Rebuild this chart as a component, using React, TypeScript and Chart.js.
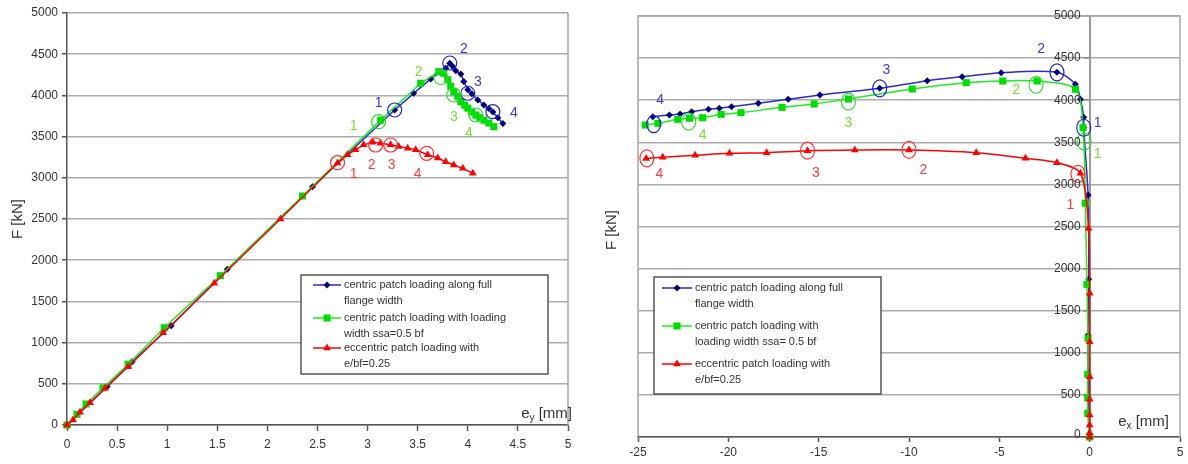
import React, { useEffect, useRef } from 'react';
import { Chart, registerables } from 'chart.js';

Chart.register(...registerables);

const FONT = "'Liberation Sans', Arial, sans-serif";
const TEXT = '#333';

// ---------- Left panel: e_y [mm] vs F [kN] ----------
const leftBlueEy = [0, 0.40, 0.65, 1.04, 1.60, 2.45, 3.27, 3.46, 3.63, 3.78, 3.82, 3.85, 3.88, 3.93, 3.96, 4.00, 4.04, 4.10, 4.16, 4.21, 4.25, 4.30, 4.35];
const leftBlueF = [0, 465, 768, 1205, 1890, 2890, 3823, 4025, 4200, 4330, 4390, 4350, 4300, 4260, 4170, 4070, 4020, 3945, 3885, 3840, 3800, 3730, 3660];

const leftGreenEy = [0, 0.10, 0.19, 0.36, 0.61, 0.97, 1.53, 2.35, 3.13, 3.53, 3.71, 3.76, 3.80, 3.83, 3.86, 3.90, 3.93, 3.97, 4.00, 4.04, 4.08, 4.12, 4.16, 4.21, 4.26];
const leftGreenF = [0, 130, 255, 450, 738, 1180, 1812, 2779, 3700, 4147, 4288, 4268, 4190, 4110, 4045, 3990, 3925, 3880, 3845, 3800, 3762, 3730, 3700, 3665, 3620];

const leftRedEy = [0, 0.06, 0.13, 0.23, 0.38, 0.61, 0.96, 1.47, 2.13, 2.70, 2.80, 2.88, 2.96, 3.05, 3.13, 3.23, 3.31, 3.40, 3.48, 3.60, 3.70, 3.78, 3.86, 3.95, 4.05];
const leftRedF = [0, 61, 154, 271, 445, 708, 1120, 1720, 2500, 3180, 3280, 3340, 3400, 3430, 3420, 3400, 3380, 3360, 3340, 3280, 3240, 3195, 3155, 3115, 3055];

// annotation circles / labels (data coordinates)
const leftBlueCircX = [3.27, 3.82, 4.00, 4.25];
const leftBlueCircF = [3823, 4393, 4026, 3802];
const leftBlueLabX = [3.11, 3.96, 4.10, 4.46];
const leftBlueLabF = [3904, 4559, 4155, 3782];
const leftGreenCircX = [3.11, 3.73, 3.86, 4.08];
const leftGreenCircF = [3681, 4219, 4005, 3762];
const leftGreenLabX = [2.86, 3.51, 3.86, 4.01];
const leftGreenLabF = [3628, 4280, 3742, 3547];
const leftRedCircX = [2.70, 3.08, 3.23, 3.59];
const leftRedCircF = [3183, 3398, 3398, 3297];
const leftRedLabX = [2.86, 3.04, 3.24, 3.50];
const leftRedLabF = [3046, 3155, 3155, 3046];

// ---------- Right panel: e_x [mm] vs F [kN] ----------
const rightBlueEx = [0, -0.09, -0.09, -0.05, -0.09, -0.33, -0.33, -0.51, -0.79, -1.81, -4.90, -7.06, -8.99, -11.62, -14.93, -16.69, -18.34, -19.82, -20.50, -21.10, -22.03, -22.67, -23.26, -24.18];
const rightBlueF = [0, 757, 1211, 1873, 2874, 3673, 3797, 4011, 4189, 4331, 4327, 4279, 4232, 4141, 4062, 4011, 3963, 3923, 3904, 3892, 3864, 3836, 3824, 3804];

const rightGreenEx = [0, -0.11, -0.11, -0.11, -0.09, -0.15, -0.24, -0.37, -0.79, -2.91, -4.81, -6.83, -9.82, -13.35, -15.25, -17.03, -19.30, -20.40, -21.42, -22.15, -22.80, -23.90, -24.60];
const rightGreenF = [0, 281, 467, 745, 1172, 1813, 2776, 3673, 4130, 4228, 4228, 4208, 4133, 4014, 3955, 3915, 3852, 3832, 3792, 3785, 3773, 3725, 3705];

const rightRedEx = [0, 0, 0, 0, 0, 0, 0, 0, -0.06, -0.51, -1.81, -3.55, -6.28, -10.00, -13.00, -15.62, -17.88, -19.94, -21.84, -23.63, -24.55];
const rightRedF = [0, 51, 143, 261, 448, 716, 1132, 1706, 2479, 3131, 3258, 3310, 3377, 3409, 3409, 3400, 3377, 3369, 3345, 3322, 3308];

const rightBlueCircX = [-0.33, -1.81, -11.62, -24.13];
const rightBlueCircF = [3673, 4331, 4141, 3717];
const rightBlueLabX = [0.44, -2.69, -11.25, -23.77];
const rightBlueLabF = [3725, 4604, 4359, 4002];
const rightGreenCircX = [-0.31, -2.97, -13.35, -22.19];
const rightGreenCircF = [3507, 4181, 3982, 3745];
const rightGreenLabX = [0.44, -4.07, -13.35, -21.42];
const rightGreenLabF = [3357, 4121, 3733, 3587];
const rightRedCircX = [-0.65, -10.0, -15.62, -24.51];
const rightRedCircF = [3124, 3409, 3400, 3310];
const rightRedLabX = [-1.07, -9.21, -15.15, -23.81];
const rightRedLabF = [2755, 3171, 3131, 3124];

const stageLabels = ['1', '2', '3', '4'];

const yTicks = [0, 500, 1000, 1500, 2000, 2500, 3000, 3500, 4000, 4500, 5000];
const leftXTicks = ['0', '0.5', '1', '1.5', '2', '2.5', '3', '3.5', '4', '4.5', '5'];
const rightXTicks = ['-25', '-20', '-15', '-10', '-5', '0', '5'];

const leftLegend = [
  ['centric patch loading along full', 'flange width'],
  ['centric patch loading with loading', 'width ssa=0.5 bf'],
  ['eccentric patch loading with', 'e/bf=0.25'],
];
const rightLegend = [
  ['centric patch loading along full', 'flange width'],
  ['centric patch loading with', 'loading width ssa= 0.5 bf'],
  ['eccentric patch loading with', 'e/bf=0.25'],
];

const BLUE_LINE = '#2a2ad2';
const BLUE_MARK = '#000080';
const GREEN_LINE = '#19ee19';
const GREEN_MARK = '#00dd00';
const RED = '#ff0000';

const SERIES = [
  { line: BLUE_LINE, mark: BLUE_MARK, style: 'rectRot', r: 3.5 },
  { line: GREEN_LINE, mark: GREEN_MARK, style: 'rect', r: 5 },
  { line: RED, mark: RED, style: 'triangle', r: 4.5 },
];

function drawMarker(ctx: CanvasRenderingContext2D, style: string, x: number, y: number, r: number, color: string) {
  ctx.fillStyle = color;
  ctx.beginPath();
  if (style === 'rectRot') {
    ctx.moveTo(x, y - r); ctx.lineTo(x + r, y); ctx.lineTo(x, y + r); ctx.lineTo(x - r, y);
  } else if (style === 'rect') {
    const s = r * Math.SQRT1_2;
    ctx.rect(x - s, y - s, 2 * s, 2 * s);
  } else {
    const h = r * 1.5;
    ctx.moveTo(x, y - r); ctx.lineTo(x + h * 0.58, y + r * 0.5); ctx.lineTo(x - h * 0.58, y + r * 0.5);
  }
  ctx.closePath();
  ctx.fill();
}

type Ann = { cx: number[]; cy: number[]; lx: number[]; ly: number[]; circle: string; text: string };

type OverlayConf = {
  anns: Ann[];
  rx: number; ry: number;
  frame: 'right' | 'box';
  yTitle: { x: number; y: number };
  xTitle: { right: number; y: number; sub: string };
  legend: { x: number; y: number; w: number; h: number; sx1: number; sx2: number; tx: number; ys: number[]; gap: number; labels: string[][] };
  yLabelsAtZero: boolean;
};

function makeOverlay(conf: OverlayConf) {
  return {
    id: 'overlay',
    beforeDatasetsDraw(chart: any) {
      const { ctx, chartArea: a } = chart;
      ctx.save();
      ctx.strokeStyle = '#a6a6a6';
      ctx.lineWidth = 1.5;
      ctx.beginPath();
      if (conf.frame === 'right') {
        ctx.moveTo(a.right, a.top); ctx.lineTo(a.right, a.bottom);
      } else {
        ctx.moveTo(a.left, a.bottom); ctx.lineTo(a.left, a.top); ctx.lineTo(a.right, a.top); ctx.lineTo(a.right, a.bottom);
      }
      ctx.stroke();
      ctx.restore();
    },
    afterDatasetsDraw(chart: any) {
      const { ctx } = chart;
      const xs = chart.scales.x;
      const ys = chart.scales.y;
      ctx.save();
      for (const an of conf.anns) {
        ctx.strokeStyle = an.circle;
        ctx.lineWidth = 1.2;
        an.cx.forEach((v, i) => {
          ctx.beginPath();
          ctx.ellipse(xs.getPixelForValue(v), ys.getPixelForValue(an.cy[i]), conf.rx, conf.ry, 0, 0, Math.PI * 2);
          ctx.stroke();
        });
        ctx.fillStyle = an.text;
        ctx.font = `14px ${FONT}`;
        ctx.textAlign = 'center';
        ctx.textBaseline = 'middle';
        an.lx.forEach((v, i) => {
          ctx.fillText(stageLabels[i], xs.getPixelForValue(v), ys.getPixelForValue(an.ly[i]));
        });
      }
      ctx.restore();
    },
    afterDraw(chart: any) {
      const { ctx } = chart;
      const xs = chart.scales.x;
      const ys = chart.scales.y;
      ctx.save();
      // y labels drawn beside the axis at x = 0
      if (conf.yLabelsAtZero) {
        const x0 = xs.getPixelForValue(0);
        ctx.fillStyle = TEXT;
        ctx.font = `12px ${FONT}`;
        ctx.textAlign = 'right';
        ctx.textBaseline = 'middle';
        yTicks.forEach((v) => ctx.fillText(String(v), x0 - 9, ys.getPixelForValue(v) - (v === 0 ? 2 : 0)));
      }
      // y title
      ctx.save();
      ctx.translate(conf.yTitle.x, conf.yTitle.y);
      ctx.rotate(-Math.PI / 2);
      ctx.fillStyle = TEXT;
      ctx.font = `15px ${FONT}`;
      ctx.textAlign = 'center';
      ctx.textBaseline = 'middle';
      ctx.fillText('F [kN]', 0, 0);
      ctx.restore();
      // x title with subscript
      ctx.fillStyle = TEXT;
      ctx.textAlign = 'left';
      ctx.textBaseline = 'alphabetic';
      ctx.font = `15px ${FONT}`;
      const wE = ctx.measureText('e').width;
      const wRest = ctx.measureText(' [mm]').width;
      ctx.font = `10px ${FONT}`;
      const wSub = ctx.measureText(conf.xTitle.sub).width;
      let tx = conf.xTitle.right - wE - wSub - wRest;
      ctx.font = `15px ${FONT}`;
      ctx.fillText('e', tx, conf.xTitle.y);
      tx += wE;
      ctx.font = `10px ${FONT}`;
      ctx.fillText(conf.xTitle.sub, tx, conf.xTitle.y + 3);
      tx += wSub;
      ctx.font = `15px ${FONT}`;
      ctx.fillText(' [mm]', tx, conf.xTitle.y);
      // legend
      const L = conf.legend;
      ctx.fillStyle = '#ffffff';
      ctx.fillRect(L.x, L.y, L.w, L.h);
      ctx.strokeStyle = '#555';
      ctx.lineWidth = 1.5;
      ctx.strokeRect(L.x, L.y, L.w, L.h);
      ctx.font = `11px ${FONT}`;
      ctx.textBaseline = 'middle';
      SERIES.forEach((s, i) => {
        const y = L.ys[i];
        ctx.strokeStyle = s.line;
        ctx.lineWidth = 1.5;
        ctx.beginPath();
        ctx.moveTo(L.sx1, y); ctx.lineTo(L.sx2, y);
        ctx.stroke();
        drawMarker(ctx, s.style, (L.sx1 + L.sx2) / 2, y, s.r, s.mark);
        ctx.fillStyle = TEXT;
        L.labels[i].forEach((t, j) => ctx.fillText(t, L.tx, y + j * L.gap));
      });
      ctx.restore();
    },
  };
}

function datasets(bx: number[], by: number[], gx: number[], gy: number[], rx: number[], ry: number[], tension: number) {
  const pts = (xs: number[], ys: number[]) => xs.map((x, i) => ({ x, y: ys[i] }));
  const all = [pts(bx, by), pts(gx, gy), pts(rx, ry)];
  return SERIES.map((s, i) => ({
    data: all[i],
    showLine: true,
    borderColor: s.line,
    borderWidth: 1.5,
    backgroundColor: s.mark,
    pointBackgroundColor: s.mark,
    pointBorderColor: s.mark,
    pointBorderWidth: 0,
    pointStyle: s.style,
    pointRadius: s.r,
    tension,
    clip: false,
    order: 2 - i,
  }));
}

const tickFont = { family: FONT, size: 12 };

function useChart(ref: React.RefObject<HTMLCanvasElement>, make: () => any) {
  useEffect(() => {
    if (!ref.current) return;
    const chart = new Chart(ref.current, make());
    return () => chart.destroy();
  }, []);
}

export default function App() {
  const leftRef = useRef<HTMLCanvasElement>(null);
  const rightRef = useRef<HTMLCanvasElement>(null);

  useChart(leftRef, () => ({
    type: 'scatter',
    data: { datasets: datasets(leftBlueEy, leftBlueF, leftGreenEy, leftGreenF, leftRedEy, leftRedF, 0) },
    options: {
      responsive: false,
      animation: false,
      events: [],
      layout: { padding: { left: 0, right: 22, top: 13, bottom: 0 } },
      plugins: { legend: { display: false }, tooltip: { enabled: false } },
      scales: {
        x: {
          type: 'linear', min: 0, max: 5,
          ticks: { stepSize: 0.5, font: tickFont, color: TEXT, padding: 6, maxRotation: 0, autoSkip: false,
            callback: (_v: any, i: number) => leftXTicks[i] },
          grid: { drawOnChartArea: false, drawTicks: true, tickLength: 6, tickColor: '#555', tickWidth: 1.5 },
          border: { color: '#555', width: 1.5 },
          afterFit: (s: any) => { s.height = 39; },
        },
        y: {
          type: 'linear', min: 0, max: 5000,
          ticks: { stepSize: 500, font: tickFont, color: TEXT, padding: 4, callback: (v: any) => String(v) },
          grid: { color: '#ababab', lineWidth: 1.5, drawTicks: true, tickLength: 5, tickColor: '#555', tickWidth: 1.5 },
          border: { color: '#555', width: 1.5 },
          afterFit: (s: any) => { s.width = 67; },
        },
      },
    },
    plugins: [makeOverlay({
      anns: [
        { cx: leftBlueCircX, cy: leftBlueCircF, lx: leftBlueLabX, ly: leftBlueLabF, circle: '#2323c8', text: '#4a32c8' },
        { cx: leftGreenCircX, cy: leftGreenCircF, lx: leftGreenLabX, ly: leftGreenLabF, circle: '#33dd33', text: '#77dd33' },
        { cx: leftRedCircX, cy: leftRedCircF, lx: leftRedLabX, ly: leftRedLabF, circle: '#ff3030', text: '#ff3a3a' },
      ],
      rx: 7, ry: 7,
      frame: 'right',
      yTitle: { x: 18, y: 219 },
      xTitle: { right: 572, y: 418, sub: 'y' },
      legend: { x: 301, y: 275, w: 247, h: 99, sx1: 313, sx2: 341, tx: 344, ys: [285, 318, 348], gap: 16, labels: leftLegend },
      yLabelsAtZero: false,
    })],
  }));

  useChart(rightRef, () => ({
    type: 'scatter',
    data: { datasets: datasets(rightBlueEx, rightBlueF, rightGreenEx, rightGreenF, rightRedEx, rightRedF, 0.3) },
    options: {
      responsive: false,
      animation: false,
      events: [],
      layout: { padding: { left: 48, right: 8, top: 16, bottom: 0 } },
      plugins: { legend: { display: false }, tooltip: { enabled: false } },
      scales: {
        x: {
          type: 'linear', position: 'bottom', min: -25, max: 5,
          ticks: { stepSize: 5, font: tickFont, color: TEXT, padding: 3, maxRotation: 0, autoSkip: false,
            callback: (_v: any, i: number) => rightXTicks[i] },
          grid: { drawOnChartArea: false, drawTicks: true, tickLength: 5, tickColor: '#555', tickWidth: 1.5 },
          border: { color: '#555', width: 1.5 },
          afterFit: (s: any) => { s.height = 27; },
        },
        y: {
          type: 'linear', position: { x: 0 }, min: 0, max: 5000,
          ticks: { stepSize: 500, display: false },
          grid: { color: '#ababab', lineWidth: 1.5, drawTicks: true, tickLength: 6, tickColor: '#888', tickWidth: 1.5 },
          border: { color: '#9a9a9a', width: 2 },
        },
      },
    },
    plugins: [makeOverlay({
      anns: [
        { cx: rightBlueCircX, cy: rightBlueCircF, lx: rightBlueLabX, ly: rightBlueLabF, circle: '#2323c8', text: '#4a32c8' },
        { cx: rightGreenCircX, cy: rightGreenCircF, lx: rightGreenLabX, ly: rightGreenLabF, circle: '#33dd33', text: '#77dd33' },
        { cx: rightRedCircX, cy: rightRedCircF, lx: rightRedLabX, ly: rightRedLabF, circle: '#ff3030', text: '#ff3a3a' },
      ],
      rx: 7, ry: 8.5,
      frame: 'box',
      yTitle: { x: 22, y: 230 },
      xTitle: { right: 579, y: 426, sub: 'x' },
      legend: { x: 64, y: 277, w: 227, h: 117, sx1: 72, sx2: 102, tx: 105, ys: [288, 326, 364], gap: 16, labels: rightLegend },
      yLabelsAtZero: true,
    })],
  }));

  return (
    <div style={{ position: 'absolute', left: 0, top: 0, width: 1188, height: 464, background: '#fff' }}>
      <canvas ref={leftRef} width={590} height={464} style={{ position: 'absolute', left: 0, top: 0 }} />
      <canvas ref={rightRef} width={598} height={464} style={{ position: 'absolute', left: 590, top: 0 }} />
    </div>
  );
}
